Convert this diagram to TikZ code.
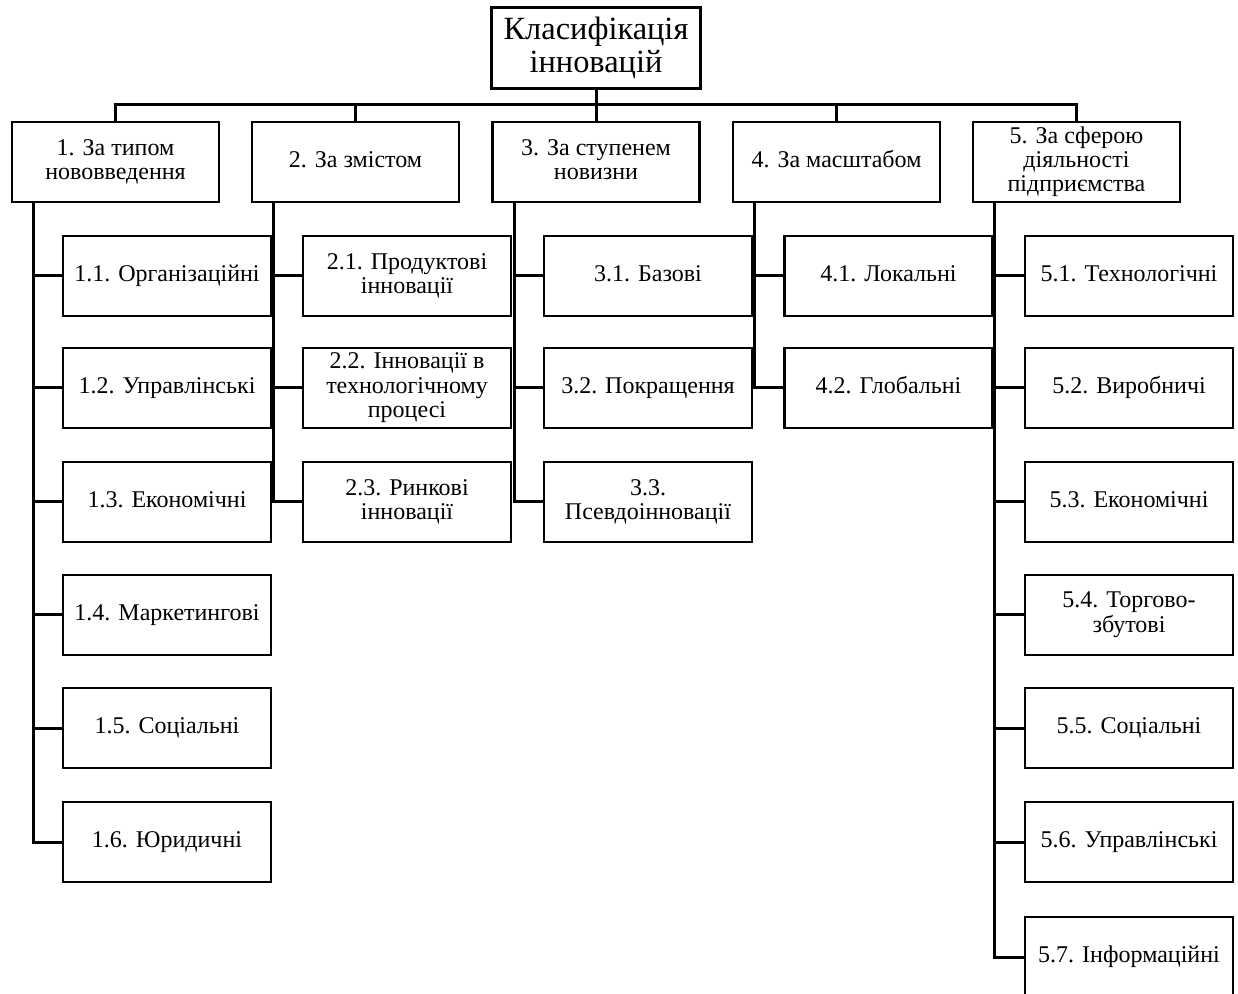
\documentclass[tikz,border=0pt]{standalone}
\usepackage{fontspec}
\setmainfont{Liberation Serif}
\usepackage{tikz}
\usetikzlibrary{positioning,calc}
\newcommand{\cellstrut}{\rule[-2.74pt]{0pt}{10.6pt}}

\begin{document}
\begin{tikzpicture}[
      x=0.5pt, y=-0.5pt,
      topbox/.style={draw, line width=1.4pt, minimum width=104.5pt, minimum height=40.5pt, inner sep=1pt, align=center, font=\fontsize{16.2}{16.5}\selectfont, execute at begin node=\rule{0pt}{13.5pt}},
      groupbox/.style={draw, line width=1.4pt, minimum width=103.5pt, minimum height=40pt, inner sep=1pt, align=center, font=\fontsize{12}{12.2}\selectfont, execute at begin node=\cellstrut, execute at end node=\cellstrut},
      itembox/.style={draw, line width=1.4pt, minimum width=104pt, minimum height=40pt, inner sep=1pt, align=center, font=\fontsize{12}{12.2}\selectfont, execute at begin node=\cellstrut, execute at end node=\cellstrut},
      link/.style={line width=1.5pt}
  ]
    \useasboundingbox (0,0) rectangle (1238,994);
    % root and groups
    \node[topbox] (root) at (596,48) {Класифікація\\інновацій};
    \node[groupbox] (g1) at (115.5,162) {1. За типом\\нововведення};
    \node[groupbox] (g2) at (355.5,162) {2. За змістом};
    \node[groupbox] (g3) at (596,162) {3. За ступенем\\новизни};
    \node[groupbox] (g4) at (836.5,162) {4. За масштабом};
    \node[groupbox] (g5) at (1076.5,162) {5. За сферою\\діяльності\\підприємства};
    \coordinate (bus) at (596,105);
    \draw[link] (root.south) -- (root.south |- bus);
    \draw[link] (g1.north) -- (g1.north |- bus) -- (g5.north |- bus) -- (g5.north);
    \draw[link] (g2.north) -- (g2.north |- bus);
    \draw[link] (g3.north) -- (g3.north |- bus);
    \draw[link] (g4.north) -- (g4.north |- bus);
    % column 1
    \node[itembox] (i11) at (167,276) {1.1. Організаційні};
    \node[itembox] (i12) at (167,388) {1.2. Управлінські};
    \node[itembox] (i13) at (167,502) {1.3. Економічні};
    \node[itembox] (i14) at (167,615) {1.4. Маркетингові};
    \node[itembox] (i15) at (167,728) {1.5. Соціальні};
    \node[itembox] (i16) at (167,842) {1.6. Юридичні};
    \coordinate (t1) at (33,0);
    \draw[link] (g1.south -| t1) |- (i16.west);
    \draw[link] (i11.west -| t1) -- (i11.west);
    \draw[link] (i12.west -| t1) -- (i12.west);
    \draw[link] (i13.west -| t1) -- (i13.west);
    \draw[link] (i14.west -| t1) -- (i14.west);
    \draw[link] (i15.west -| t1) -- (i15.west);
    % column 2
    \node[itembox] (i21) at (407,276) {2.1. Продуктові\\інновації};
    \node[itembox] (i22) at (407,388) {2.2. Інновації в\\технологічному\\процесі};
    \node[itembox] (i23) at (407,502) {2.3. Ринкові\\інновації};
    \coordinate (t2) at (273,0);
    \draw[link] (g2.south -| t2) |- (i23.west);
    \draw[link] (i21.west -| t2) -- (i21.west);
    \draw[link] (i22.west -| t2) -- (i22.west);
    % column 3
    \node[itembox] (i31) at (648,276) {3.1. Базові};
    \node[itembox] (i32) at (648,388) {3.2. Покращення};
    \node[itembox] (i33) at (648,502) {3.3.\\Псевдоінновації};
    \coordinate (t3) at (514,0);
    \draw[link] (g3.south -| t3) |- (i33.west);
    \draw[link] (i31.west -| t3) -- (i31.west);
    \draw[link] (i32.west -| t3) -- (i32.west);
    % column 4
    \node[itembox] (i41) at (888.5,276) {4.1. Локальні};
    \node[itembox] (i42) at (888.5,388) {4.2. Глобальні};
    \coordinate (t4) at (754,0);
    \draw[link] (g4.south -| t4) |- (i42.west);
    \draw[link] (i41.west -| t4) -- (i41.west);
    % column 5
    \node[itembox] (i51) at (1129,276) {5.1. Технологічні};
    \node[itembox] (i52) at (1129,388) {5.2. Виробничі};
    \node[itembox] (i53) at (1129,502) {5.3. Економічні};
    \node[itembox] (i54) at (1129,615) {5.4. Торгово-\\збутові};
    \node[itembox] (i55) at (1129,728) {5.5. Соціальні};
    \node[itembox] (i56) at (1129,842) {5.6. Управлінські};
    \node[itembox] (i57) at (1129,957) {5.7. Інформаційні};
    \coordinate (t5) at (994,0);
    \draw[link] (g5.south -| t5) |- (i57.west);
    \draw[link] (i51.west -| t5) -- (i51.west);
    \draw[link] (i52.west -| t5) -- (i52.west);
    \draw[link] (i53.west -| t5) -- (i53.west);
    \draw[link] (i54.west -| t5) -- (i54.west);
    \draw[link] (i55.west -| t5) -- (i55.west);
    \draw[link] (i56.west -| t5) -- (i56.west);
  \end{tikzpicture}
\end{document}
